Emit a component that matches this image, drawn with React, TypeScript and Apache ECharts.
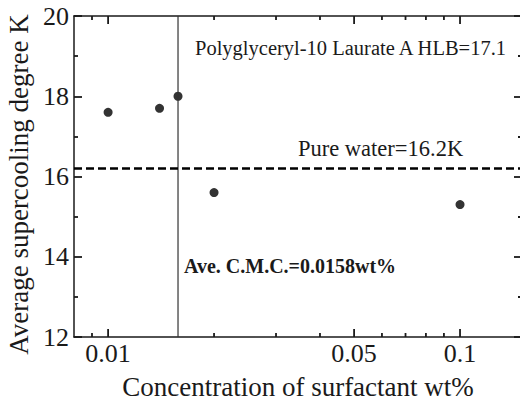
import React, { useEffect, useRef } from 'react';
import * as echarts from 'echarts';

const concentrations = [0.01, 0.014, 0.0158, 0.02, 0.1];
const supercooling = [17.6, 17.7, 18.0, 15.6, 15.3];
const pureWater = 16.2;
const cmc = 0.0158;
const xMin = 0.008;
const xMax = 0.15;
const xMajorTicks = [0.01, 0.05, 0.1];
const xMinorTicks = [0.009, 0.02, 0.03, 0.04, 0.06, 0.07, 0.08, 0.09];
const yMin = 12;
const yMax = 20;
const yInterval = 2;
const xTitle = 'Concentration of surfactant wt%';
const yTitle = 'Average supercooling degree K';
const labelSample = 'Polyglyceryl-10 Laurate A HLB=17.1';
const labelWater = 'Pure water=16.2K';
const labelCmc = 'Ave. C.M.C.=0.0158wt%';

const FONT = "'Liberation Serif', 'Times New Roman', serif";
const INK = '#1a1a1a';

const lg = (v: number) => Math.log10(v);

function frameXAxis(position: 'top' | 'bottom', withLabels: boolean): any {
  const custom = xMajorTicks.map(lg);
  return {
    type: 'value',
    gridIndex: 0,
    position,
    min: lg(xMin),
    max: lg(xMax),
    axisLine: { show: true, onZero: false, lineStyle: { color: INK, width: 1.5 } },
    axisTick: { show: false },
    axisLabel: withLabels
      ? {
          show: true,
          customValues: custom,
          formatter: (v: number) => String(+Math.pow(10, v).toPrecision(3)),
          fontSize: 26,
          fontFamily: FONT,
          color: INK,
          margin: 3,
        }
      : { show: false },
    splitLine: { show: false },
    name: withLabels ? xTitle : '',
    nameLocation: 'middle',
    nameGap: 36,
    nameTextStyle: { fontSize: 27, fontFamily: FONT, color: INK },
  };
}

function yAxisDef(position: 'left' | 'right', labels: boolean): any {
  return {
    type: 'value',
    position,
    min: yMin,
    max: yMax,
    interval: yInterval,
    axisLine: { show: true, onZero: false, lineStyle: { color: INK, width: 1.5 } },
    axisTick: { show: true, inside: true, length: 8, lineStyle: { color: INK, width: 1.8 } },
    minorTick: { show: true, splitNumber: 2, length: 4, lineStyle: { color: INK, width: 1.8 } },
    axisLabel: labels
      ? { show: true, fontSize: 26, fontFamily: FONT, color: INK, margin: 5 }
      : { show: false },
    splitLine: { show: false },
    name: labels ? yTitle : '',
    nameLocation: 'middle',
    nameGap: 29,
    nameTextStyle: { fontSize: 27, fontFamily: FONT, color: INK, padding: [0, 16, 0, 0] },
  };
}

export default function App() {
  const ref = useRef<HTMLDivElement>(null);
  useEffect(() => {
    if (!ref.current) return;
    const chart = echarts.init(ref.current, undefined, { renderer: 'svg' });
    const tickItems = [
      ...xMajorTicks.map((v) => [v, yMin, 1]),
      ...xMinorTicks.map((v) => [v, yMin, 0]),
    ];
    const option: any = {
      animation: false,
      backgroundColor: '#fff',
      grid: { left: 74, top: 16, width: 448, height: 321, containLabel: false, outerBoundsMode: 'none' },
      xAxis: [
        { type: 'log', logBase: 10, min: xMin, max: xMax, show: false, gridIndex: 0 },
        frameXAxis('bottom', true),
        frameXAxis('top', false),
      ],
      yAxis: [yAxisDef('left', true), yAxisDef('right', false)],
      series: [
        {
          type: 'custom',
          xAxisIndex: 0,
          yAxisIndex: 0,
          silent: true,
          clip: false,
          encode: { x: 0, y: 1 },
          data: tickItems,
          renderItem: (_params: any, api: any) => {
            const x = api.value(0);
            const len = api.value(2) ? 8 : 4;
            const b = api.coord([x, yMin]);
            const t = api.coord([x, yMax]);
            const style = { stroke: INK, lineWidth: 1.8, fill: null };
            return {
              type: 'group',
              children: [
                { type: 'line', shape: { x1: b[0], y1: b[1], x2: b[0], y2: b[1] - len }, style },
                { type: 'line', shape: { x1: t[0], y1: t[1], x2: t[0], y2: t[1] + len }, style },
              ],
            };
          },
        },
        {
          type: 'line',
          xAxisIndex: 0,
          yAxisIndex: 0,
          symbol: 'none',
          silent: true,
          lineStyle: { color: '#333', width: 1.2 },
          data: [[cmc, yMin], [cmc, yMax]],
        },
        {
          type: 'scatter',
          xAxisIndex: 0,
          yAxisIndex: 0,
          symbol: 'circle',
          symbolSize: 9,
          itemStyle: { color: '#000' },
          data: concentrations.map((c, i) => [c, supercooling[i]]),
          markLine: {
            silent: true,
            symbol: 'none',
            label: { show: false },
            data: [{ yAxis: pureWater, lineStyle: { color: '#000', width: 2.5, type: [8, 4] } }],
          },
        },
      ],
      graphic: [
        {
          type: 'text',
          x: 195,
          y: 48,
          style: { text: labelSample, fontSize: 20.5, fontFamily: FONT, fill: INK, align: 'left', verticalAlign: 'middle' },
        },
        {
          type: 'text',
          x: 298,
          y: 148,
          style: { text: labelWater, fontSize: 22.5, fontFamily: FONT, fill: INK, align: 'left', verticalAlign: 'middle' },
        },
        {
          type: 'text',
          x: 184,
          y: 266,
          style: { text: labelCmc, fontSize: 20, fontWeight: 'bold', fontFamily: FONT, fill: INK, align: 'left', verticalAlign: 'middle' },
        },
      ],
    };
    chart.setOption(option);
    return () => chart.dispose();
  }, []);
  return <div ref={ref} style={{ position: 'fixed', left: 0, top: 0, width: 520, height: 401 }} />;
}
